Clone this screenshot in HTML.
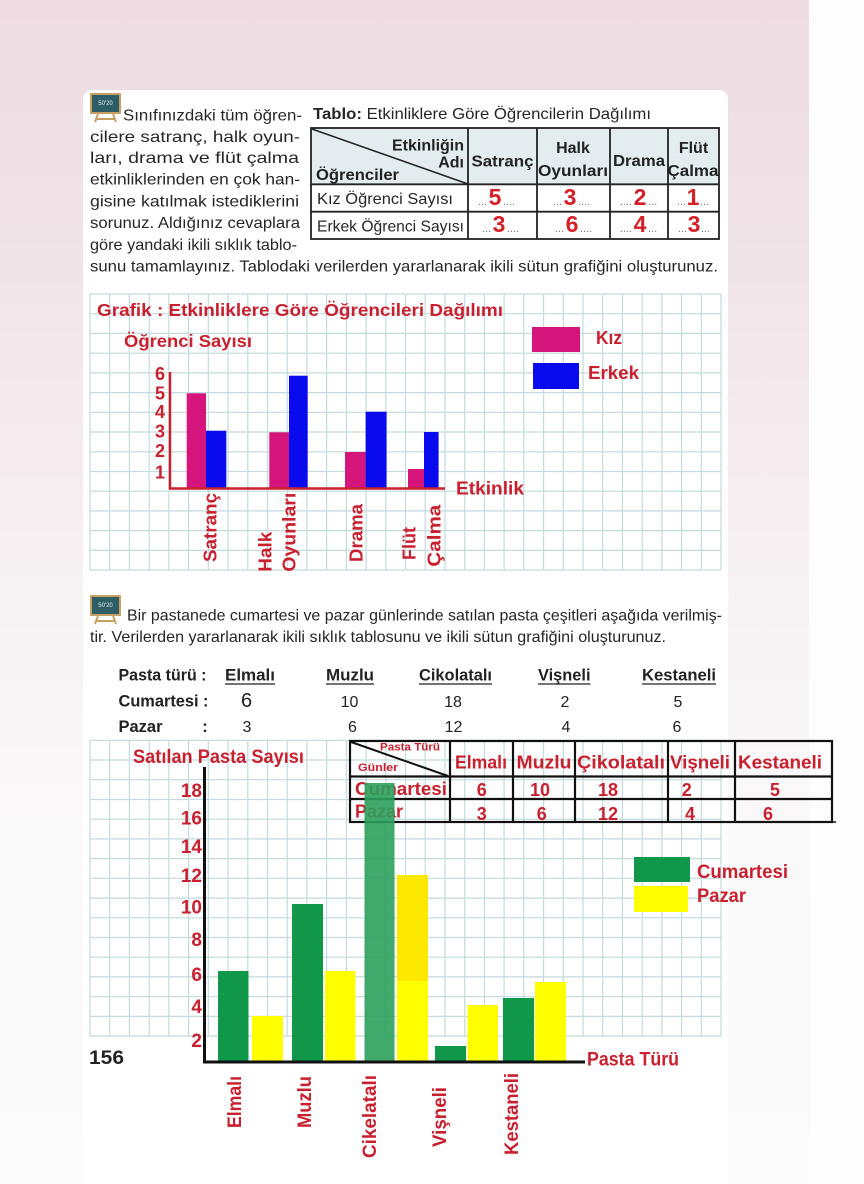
<!DOCTYPE html>
<html><head><meta charset="utf-8"><style>
html,body{margin:0;padding:0;width:864px;height:1184px;overflow:hidden;background:#fff}
svg{display:block}
</style></head><body>
<svg width="864" height="1184" viewBox="0 0 864 1184" xmlns="http://www.w3.org/2000/svg" font-family="'Liberation Sans', sans-serif">
<defs>
<linearGradient id="bg" x1="0" y1="0" x2="0" y2="1">
<stop offset="0" stop-color="#eedce2"/>
<stop offset="0.25" stop-color="#f1e5e9"/>
<stop offset="0.5" stop-color="#f7f2f4"/>
<stop offset="0.7" stop-color="#faf9f9"/>
<stop offset="1" stop-color="#fbfbfb"/>
</linearGradient>
<linearGradient id="sh" x1="0" y1="0" x2="0" y2="1">
<stop offset="0" stop-color="#e8dfe2"/>
<stop offset="0.7" stop-color="#f1ecee"/>
<stop offset="1" stop-color="#f8f6f7"/>
</linearGradient>
</defs>
<rect width="809" height="1184" fill="url(#bg)"/>
<rect x="809" width="55" height="1184" fill="#fdfdfd"/>
<rect x="82" y="89" width="647" height="520" rx="9" fill="url(#sh)"/>
<rect x="83" y="90" width="645" height="1110" rx="9" fill="#fff"/>

<!-- icon 1 -->
<g transform="translate(90,93)">
 <rect x="0" y="0" width="31" height="21" fill="#c9a063" rx="1"/>
 <rect x="2" y="2" width="27" height="17" fill="#2f5d66"/>
 <text x="15.5" y="12" font-size="6" fill="#dfeeee" text-anchor="middle">50'20</text>
 <path d="M8 21 L5 29 M23 21 L26 29 M6 26 H25" stroke="#c9a063" stroke-width="2"/>
</g>

<!-- section 1 text -->
<g font-size="16" fill="#262626">
<text x="123" y="120.5" textLength="179" lengthAdjust="spacingAndGlyphs">Sınıfınızdaki tüm öğren-</text>
<text x="90" y="142" textLength="210" lengthAdjust="spacingAndGlyphs">cilere satranç, halk oyun-</text>
<text x="90" y="163" textLength="209" lengthAdjust="spacingAndGlyphs">ları, drama ve flüt çalma</text>
<text x="90" y="184.5" textLength="210" lengthAdjust="spacingAndGlyphs">etkinliklerinden en çok han-</text>
<text x="90" y="206.5" textLength="209" lengthAdjust="spacingAndGlyphs">gisine katılmak istediklerini</text>
<text x="90" y="228" textLength="210" lengthAdjust="spacingAndGlyphs">sorunuz. Aldığınız cevaplara</text>
<text x="90" y="250" textLength="207" lengthAdjust="spacingAndGlyphs">göre yandaki ikili sıklık tablo-</text>
<text x="90" y="271.5" textLength="628" lengthAdjust="spacingAndGlyphs">sunu tamamlayınız. Tablodaki verilerden yararlanarak ikili sütun grafiğini oluşturunuz.</text>
<text x="313" y="119" textLength="338" lengthAdjust="spacingAndGlyphs"><tspan font-weight="bold">Tablo:</tspan> Etkinliklere Göre Öğrencilerin Dağılımı</text>
</g>

<!-- table 1 -->
<rect x="311" y="128" width="408" height="56" fill="#e3ecef"/>
<g stroke="#222" stroke-width="1.8" fill="none">
<rect x="311" y="128" width="408" height="111"/>
<path d="M468 128V239M537 128V239M610 128V239M668 128V239M311 184.3H719M311 211.7H719"/>
<path d="M312 129L468 184" stroke-width="1.5"/>
</g>
<g font-size="16" font-weight="bold" fill="#222">
<text x="464" y="150.5" text-anchor="end">Etkinliğin</text>
<text x="464" y="167.5" text-anchor="end">Adı</text>
<text x="316" y="180" textLength="83" lengthAdjust="spacingAndGlyphs">Öğrenciler</text>
<text x="502.5" y="166.5" text-anchor="middle" textLength="62" lengthAdjust="spacingAndGlyphs">Satranç</text>
<text x="573" y="153" text-anchor="middle">Halk</text>
<text x="573" y="176" text-anchor="middle" textLength="70" lengthAdjust="spacingAndGlyphs">Oyunları</text>
<text x="639" y="166" text-anchor="middle" textLength="52" lengthAdjust="spacingAndGlyphs">Drama</text>
<text x="693.5" y="153" text-anchor="middle">Flüt</text>
<text x="693" y="176" text-anchor="middle" textLength="51" lengthAdjust="spacingAndGlyphs">Çalma</text>
</g>
<g font-size="16" fill="#262626">
<text x="317" y="204" textLength="136" lengthAdjust="spacingAndGlyphs">Kız Öğrenci Sayısı</text>
<text x="317" y="231.5" textLength="147" lengthAdjust="spacingAndGlyphs">Erkek Öğrenci Sayısı</text>
</g>
<g font-size="11" fill="#777">
<text x="487" y="205" text-anchor="end">...</text><text x="503" y="205">....</text>
<text x="562" y="205" text-anchor="end">...</text><text x="578" y="205">....</text>
<text x="632" y="205" text-anchor="end">....</text><text x="648" y="205">...</text>
<text x="686" y="205" text-anchor="end">...</text><text x="700" y="205">...</text>
<text x="491" y="232" text-anchor="end">...</text><text x="507" y="232">....</text>
<text x="564" y="232" text-anchor="end">...</text><text x="580" y="232">....</text>
<text x="632" y="232" text-anchor="end">....</text><text x="648" y="232">...</text>
<text x="687" y="232" text-anchor="end">...</text><text x="701" y="232">...</text>
</g>
<g font-size="23" font-weight="bold" fill="#d42027" text-anchor="middle">
<text x="495" y="205">5</text><text x="570" y="205">3</text><text x="640" y="205">2</text><text x="693" y="205">1</text>
<text x="499" y="232">3</text><text x="572" y="232">6</text><text x="640" y="232">4</text><text x="694" y="232">3</text>
</g>

<!-- chart 1 grid -->
<path fill="none" stroke="#c4dade" stroke-width="1.2" d="M90 294V570M109.7 294V570M129.4 294V570M149.2 294V570M168.9 294V570M188.6 294V570M208.3 294V570M228 294V570M247.8 294V570M267.5 294V570M287.2 294V570M306.9 294V570M326.6 294V570M346.4 294V570M366.1 294V570M385.8 294V570M405.5 294V570M425.2 294V570M445 294V570M464.7 294V570M484.4 294V570M504.1 294V570M523.8 294V570M543.6 294V570M563.3 294V570M583 294V570M602.7 294V570M622.4 294V570M642.2 294V570M661.9 294V570M681.6 294V570M701.3 294V570M721 294V570M90 294H721M90 313.7H721M90 333.4H721M90 353.2H721M90 372.9H721M90 392.6H721M90 412.3H721M90 432H721M90 451.8H721M90 471.5H721M90 491.2H721M90 510.9H721M90 530.6H721M90 550.4H721M90 570H721"/>

<!-- chart 1 bars -->
<g fill="#d5147c">
<rect x="186.7" y="393.3" width="19.3" height="95"/>
<rect x="269.3" y="432.3" width="19.7" height="56"/>
<rect x="345" y="452" width="20.6" height="36.3"/>
<rect x="408" y="469" width="16" height="19.3"/>
<rect x="532" y="327" width="48" height="25"/>
</g>
<g fill="#0a0aee">
<rect x="206" y="430.7" width="20.3" height="57.6"/>
<rect x="289" y="375.7" width="18.7" height="112.6"/>
<rect x="365.6" y="411.7" width="21" height="76.6"/>
<rect x="424" y="432" width="14.6" height="56.3"/>
<rect x="533" y="363" width="46" height="26"/>
</g>
<path d="M170 372V489.5M169 488.5H445" stroke="#c8202f" stroke-width="2.5" fill="none"/>
<g font-weight="bold" fill="#c8202f">
<text x="97" y="316" font-size="17.5" textLength="406" lengthAdjust="spacingAndGlyphs">Grafik : Etkinliklere Göre Öğrencileri Dağılımı</text>
<text x="124" y="347" font-size="17.5" textLength="128" lengthAdjust="spacingAndGlyphs">Öğrenci Sayısı</text>
<text x="596" y="344" font-size="18" textLength="26" lengthAdjust="spacingAndGlyphs">Kız</text>
<text x="588" y="379" font-size="18" textLength="51" lengthAdjust="spacingAndGlyphs">Erkek</text>
<text x="456" y="494.5" font-size="18" textLength="68" lengthAdjust="spacingAndGlyphs">Etkinlik</text>
<g font-size="18" text-anchor="end">
<text x="165" y="380">6</text><text x="165" y="399.5">5</text><text x="165" y="418">4</text>
<text x="165" y="437.5">3</text><text x="165" y="457">2</text><text x="165" y="478.5">1</text>
</g>
<g font-size="18">
<text transform="translate(216.5,562) rotate(-90)" textLength="69" lengthAdjust="spacingAndGlyphs">Satranç</text>
<text transform="translate(271.5,571.7) rotate(-90)" textLength="40" lengthAdjust="spacingAndGlyphs">Halk</text>
<text transform="translate(295.5,571.7) rotate(-90)" textLength="79" lengthAdjust="spacingAndGlyphs">Oyunları</text>
<text transform="translate(362.5,562) rotate(-90)" textLength="58" lengthAdjust="spacingAndGlyphs">Drama</text>
<text transform="translate(415.5,560) rotate(-90)" textLength="33" lengthAdjust="spacingAndGlyphs">Flüt</text>
<text transform="translate(440.5,566.7) rotate(-90)" textLength="62" lengthAdjust="spacingAndGlyphs">Çalma</text>
</g>
</g>

<!-- icon 2 -->
<g transform="translate(90,595)">
 <rect x="0" y="0" width="31" height="21" fill="#c9a063" rx="1"/>
 <rect x="2" y="2" width="27" height="17" fill="#2f5d66"/>
 <text x="15.5" y="12" font-size="6" fill="#dfeeee" text-anchor="middle">50'20</text>
 <path d="M8 21 L5 29 M23 21 L26 29 M6 26 H25" stroke="#c9a063" stroke-width="2"/>
</g>

<!-- section 2 text -->
<g font-size="16" fill="#262626">
<text x="127" y="620.5" textLength="595" lengthAdjust="spacingAndGlyphs">Bir pastanede cumartesi ve pazar günlerinde satılan pasta çeşitleri aşağıda verilmiş-</text>
<text x="90" y="642" textLength="576" lengthAdjust="spacingAndGlyphs">tir. Verilerden yararlanarak ikili sıklık tablosunu ve ikili sütun grafiğini oluşturunuz.</text>
</g>
<g font-size="17" font-weight="bold" fill="#222">
<text x="118.5" y="680.5" textLength="88" lengthAdjust="spacingAndGlyphs">Pasta türü :</text>
<text x="118.5" y="706.5" textLength="90" lengthAdjust="spacingAndGlyphs">Cumartesi :</text>
<text x="118.5" y="732" textLength="44" lengthAdjust="spacingAndGlyphs">Pazar</text>
<text x="205" y="732" text-anchor="middle">:</text>
<text x="225" y="680.5" textLength="50" lengthAdjust="spacingAndGlyphs">Elmalı</text>
<text x="326" y="680.5" textLength="48" lengthAdjust="spacingAndGlyphs">Muzlu</text>
<text x="419" y="680.5" textLength="73" lengthAdjust="spacingAndGlyphs">Cikolatalı</text>
<text x="538" y="680.5" textLength="52.5" lengthAdjust="spacingAndGlyphs">Vişneli</text>
<text x="642" y="680.5" textLength="74" lengthAdjust="spacingAndGlyphs">Kestaneli</text>
</g>
<path d="M225 684H275M326 684H374M419 684H492M538 684H590.5M642 684H716" stroke="#222" stroke-width="1.3"/>
<g font-size="16" fill="#222" text-anchor="middle">
<text x="246.5" y="707" font-size="20">6</text><text x="349.5" y="707">10</text><text x="453" y="707">18</text><text x="565" y="707">2</text><text x="678" y="707">5</text>
<text x="247" y="732">3</text><text x="352.5" y="732">6</text><text x="453.5" y="732">12</text><text x="566" y="732">4</text><text x="677" y="732">6</text>
</g>

<!-- chart 2 grid -->
<path fill="none" stroke="#c4dade" stroke-width="1.2" d="M90 740V1036M109.7 740V1036M129.4 740V1036M149.2 740V1036M168.9 740V1036M188.6 740V1036M208.3 740V1036M228 740V1036M247.8 740V1036M267.5 740V1036M287.2 740V1036M306.9 740V1036M326.6 740V1036M346.4 740V1036M366.1 740V1036M385.8 740V1036M405.5 740V1036M425.2 740V1036M445 740V1036M464.7 740V1036M484.4 740V1036M504.1 740V1036M523.8 740V1036M543.6 740V1036M563.3 740V1036M583 740V1036M602.7 740V1036M622.4 740V1036M642.2 740V1036M661.9 740V1036M681.6 740V1036M701.3 740V1036M721 740V1036M90 740.3H721M90 760H721M90 779.7H721M90 799.5H721M90 819.2H721M90 838.9H721M90 858.6H721M90 878.3H721M90 898.1H721M90 917.8H721M90 937.5H721M90 957.2H721M90 976.9H721M90 996.7H721M90 1016.4H721M90 1036H721"/>

<!-- table 2 -->
<g stroke="#111" stroke-width="2.2" fill="none">
<rect x="350" y="741" width="482" height="81"/>
<path d="M450 741V822M513 741V822M575 741V822M668 741V822M735 741V822M350 776.5H832M350 799H832"/>
<path d="M351 742L448 776" stroke-width="2"/>
<path d="M832 822H836" stroke-width="1.5"/>
</g>
<g font-weight="bold" fill="#c8202f">
<text x="380" y="750.5" font-size="11" textLength="60" lengthAdjust="spacingAndGlyphs">Pasta Türü</text>
<text x="358" y="771" font-size="11" textLength="40" lengthAdjust="spacingAndGlyphs">Günler</text>
<g font-size="18">
<text x="455" y="768.5" textLength="52" lengthAdjust="spacingAndGlyphs">Elmalı</text>
<text x="516.5" y="768.5" textLength="55" lengthAdjust="spacingAndGlyphs">Muzlu</text>
<text x="577" y="768.5" textLength="88" lengthAdjust="spacingAndGlyphs">Çikolatalı</text>
<text x="670" y="768.5" textLength="60" lengthAdjust="spacingAndGlyphs">Vişneli</text>
<text x="738" y="768.5" textLength="84" lengthAdjust="spacingAndGlyphs">Kestaneli</text>
<text x="355" y="795" textLength="92" lengthAdjust="spacingAndGlyphs">Cumartesi</text>
<text x="355" y="817.5" textLength="48" lengthAdjust="spacingAndGlyphs">Pazar</text>
<g text-anchor="middle">
<text x="481.7" y="796">6</text><text x="540" y="796">10</text><text x="608" y="796">18</text><text x="686.7" y="796">2</text><text x="775" y="796">5</text>
<text x="481.7" y="820">3</text><text x="541.7" y="820">6</text><text x="608" y="820">12</text><text x="690" y="820">4</text><text x="768" y="820">6</text>
</g>
</g>
</g>

<!-- chart 2 bars -->
<g fill="#10974a">
<rect x="218" y="971" width="30.5" height="90.5"/>
<rect x="292" y="904" width="31" height="157.5"/>
<rect x="435" y="1046" width="31" height="15.5"/>
<rect x="503" y="998" width="31" height="63.5"/>
<rect x="634" y="857" width="56" height="25"/>
</g>
<g fill="#ffff00">
<rect x="252" y="1016" width="31" height="45.5"/>
<rect x="325" y="971" width="30.5" height="90.5"/>
<rect x="397" y="980" width="31" height="81.5"/>
<rect x="467.5" y="1005" width="30.5" height="56.5"/>
<rect x="535" y="982" width="31" height="79.5"/>
<rect x="634" y="886" width="54" height="26"/>
</g>
<rect x="397" y="875" width="31" height="106" fill="#fde800"/>
<rect x="364.5" y="783" width="30" height="278.5" fill="#2ea05c" opacity="0.9"/>

<path d="M204.5 767V1063.5M203 1062H585" stroke="#111" stroke-width="3" fill="none"/>

<g font-weight="bold" fill="#c8202f">
<text x="133" y="763" font-size="19" textLength="171" lengthAdjust="spacingAndGlyphs">Satılan Pasta Sayısı</text>
<g font-size="19" text-anchor="end">
<text x="202" y="797">18</text><text x="202" y="824.5">16</text><text x="202" y="853">14</text>
<text x="202" y="882">12</text><text x="202" y="913.5">10</text><text x="202" y="946">8</text>
<text x="202" y="981">6</text><text x="202" y="1013">4</text><text x="202" y="1047">2</text>
</g>
<text x="697" y="878" font-size="19" textLength="91" lengthAdjust="spacingAndGlyphs">Cumartesi</text>
<text x="697" y="902" font-size="19" textLength="49" lengthAdjust="spacingAndGlyphs">Pazar</text>
<text x="587" y="1065.5" font-size="19" textLength="92" lengthAdjust="spacingAndGlyphs">Pasta Türü</text>
<g font-size="19">
<text transform="translate(241,1128) rotate(-90)" textLength="52" lengthAdjust="spacingAndGlyphs">Elmalı</text>
<text transform="translate(311,1128) rotate(-90)" textLength="52" lengthAdjust="spacingAndGlyphs">Muzlu</text>
<text transform="translate(376,1158) rotate(-90)" textLength="83" lengthAdjust="spacingAndGlyphs">Cikelatalı</text>
<text transform="translate(446,1147) rotate(-90)" textLength="60" lengthAdjust="spacingAndGlyphs">Vişneli</text>
<text transform="translate(518,1155) rotate(-90)" textLength="82" lengthAdjust="spacingAndGlyphs">Kestaneli</text>
</g>
</g>
<text x="89" y="1064" font-size="19" font-weight="bold" fill="#222" textLength="35" lengthAdjust="spacingAndGlyphs">156</text>
</svg>
</body></html>
